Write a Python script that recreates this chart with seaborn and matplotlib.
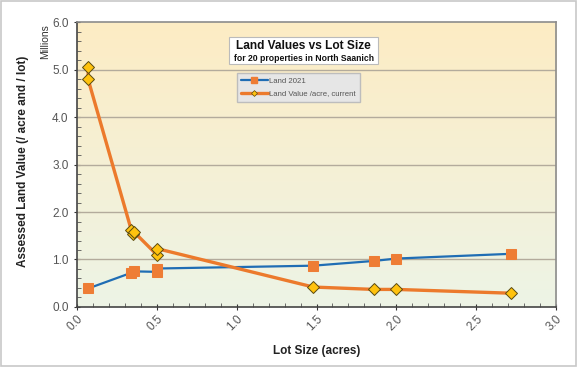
import numpy as np
import pandas as pd
import seaborn as sns
import matplotlib.pyplot as plt
from matplotlib.lines import Line2D
from matplotlib.patches import Rectangle
from matplotlib.ticker import MultipleLocator

# Land 2021 (total land value per lot, millions)
lot_land = [0.07, 0.34, 0.36, 0.50, 0.50, 1.48, 1.86, 2.00, 2.72]
land_2021 = [0.39, 0.72, 0.75, 0.74, 0.81, 0.87, 0.97, 1.02, 1.12]

# Land value per acre (millions)
lot_acre = [0.07, 0.07, 0.34, 0.35, 0.36, 0.50, 0.50, 1.48, 1.86, 2.00, 2.72]
value_acre = [5.05, 4.79, 1.62, 1.53, 1.57, 1.10, 1.23, 0.42, 0.37, 0.37, 0.29]

df_land = pd.DataFrame({'Lot': lot_land, 'Value': land_2021})
df_acre = pd.DataFrame({'Lot': lot_acre, 'Value': value_acre})

sns.set_style('white')
plt.rcParams['font.family'] = ['Liberation Sans', 'DejaVu Sans']

fig = plt.figure(figsize=(5.78, 3.67), dpi=100)
ax = fig.add_axes([0.1332, 0.1635, 0.8288, 0.7765])

# gradient background: warm yellow at top, pale green at bottom
grad = np.linspace(0, 1, 256).reshape(-1, 1)
top = np.array([253, 236, 196]) / 255
bottom = np.array([237, 244, 230]) / 255
img = bottom + (top - bottom) * grad
ax.imshow(img[:, None, :].repeat(2, axis=1), extent=[0, 3, 0, 6], origin='lower',
          aspect='auto', zorder=0)

# gridlines
for yv in range(1, 6):
    ax.axhline(yv, color='#b3ab9c', lw=1, zorder=1)

blue = '#1f6db4'
orange = '#ec7a2c'
sns.lineplot(data=df_land, x='Lot', y='Value', sort=False, estimator=None, ax=ax,
             color=blue, lw=1.6, marker='s', markersize=7.5, markerfacecolor='#ee7d35',
             markeredgecolor='#ee7d35', zorder=3)
sns.lineplot(data=df_acre, x='Lot', y='Value', sort=False, estimator=None, ax=ax,
             color=orange, lw=2.4, marker='D', markersize=6.5, markerfacecolor='#ffc20e',
             markeredgecolor='#5a4a10', markeredgewidth=0.7, zorder=4)

ax.set_xlim(0, 3)
ax.set_ylim(0, 6)
ax.xaxis.set_major_locator(MultipleLocator(0.5))
ax.xaxis.set_minor_locator(MultipleLocator(0.1))
ax.yaxis.set_major_locator(MultipleLocator(1.0))
ax.yaxis.set_minor_locator(MultipleLocator(0.2))
ax.set_xticks(np.arange(0, 3.01, 0.5))
ax.set_xticklabels([f'{v:.1f}' for v in np.arange(0, 3.01, 0.5)], rotation=45, ha='right',
                   rotation_mode='anchor')
ax.set_yticks(np.arange(0, 6.01, 1.0))
ax.set_yticklabels([f'{v:.1f}' for v in np.arange(0, 6.01, 1.0)])
ax.tick_params(axis='both', which='major', direction='inout', length=5, width=0.8,
               colors='#333333', labelcolor='#555555', labelsize=8.5)
ax.tick_params(axis='both', which='minor', direction='in', length=3, width=0.6,
               colors='#555555')
ax.tick_params(axis='x', pad=2)
ax.tick_params(axis='x', which='both', top=False, bottom=True)
ax.tick_params(axis='y', which='both', left=True, right=False)

for side in ['left', 'bottom']:
    ax.spines[side].set_color('#444444')
    ax.spines[side].set_linewidth(1.2)
for side in ['top', 'right']:
    ax.spines[side].set_color('#8c8c8c')
    ax.spines[side].set_linewidth(1.2)

ax.set_xlabel('Lot Size (acres)', fontsize=8.5, fontweight='bold', color='#222222', labelpad=8)
ax.set_ylabel('Assessed Land Value (/ acre and / lot)', fontsize=8.5, fontweight='bold',
              color='#222222')
ax.yaxis.set_label_coords(-0.10, 0.51)
fig.text(0.078, 0.886, 'Millions', rotation=90, fontsize=7.5, color='#333333',
         ha='center', va='center')

# title box
ax.text(0.4735, 0.916, 'Land Values vs Lot Size', transform=ax.transAxes, ha='center',
        va='center', fontsize=8.6, fontweight='bold', color='#111111', zorder=6)
ax.text(0.4735, 0.873, 'for 20 properties in North Saanich', transform=ax.transAxes,
        ha='center', va='center', fontsize=6.2, fontweight='bold', color='#111111', zorder=6)
ax.add_patch(Rectangle((0.318, 0.853), 0.311, 0.094, transform=ax.transAxes,
                       facecolor='white', edgecolor='#bbbbbb', lw=0.8, zorder=5))

handles = [
    Line2D([], [], color=blue, lw=1.6, marker='s', markersize=5,
           markerfacecolor='#ee7d35', markeredgecolor='#ee7d35'),
    Line2D([], [], color=orange, lw=2.4, marker='D', markersize=3,
           markerfacecolor='#ffc20e', markeredgecolor='#5a4a10', markeredgewidth=0.5),
]
leg = ax.legend(handles, ['Land 2021', 'Land Value /acre, current'], loc='upper left',
                bbox_to_anchor=(0.333, 0.821), fontsize=5.6, frameon=True, fancybox=False,
                handlelength=3.4, borderpad=0.6, labelspacing=0.6, handletextpad=0.15,
                borderaxespad=0)
leg.get_frame().set_facecolor('#e6e6e6')
leg.get_frame().set_edgecolor('#bdbdbd')
leg.get_frame().set_alpha(1)
for t in leg.get_texts():
    t.set_color('#555555')
leg.set_zorder(6)

# outer border
fig.patches.append(Rectangle((0.002, 0.003), 0.995, 0.993, transform=fig.transFigure,
                             fill=False, edgecolor='#c8c8c8', lw=1.2))

fig.savefig('out.png', dpi=100)
